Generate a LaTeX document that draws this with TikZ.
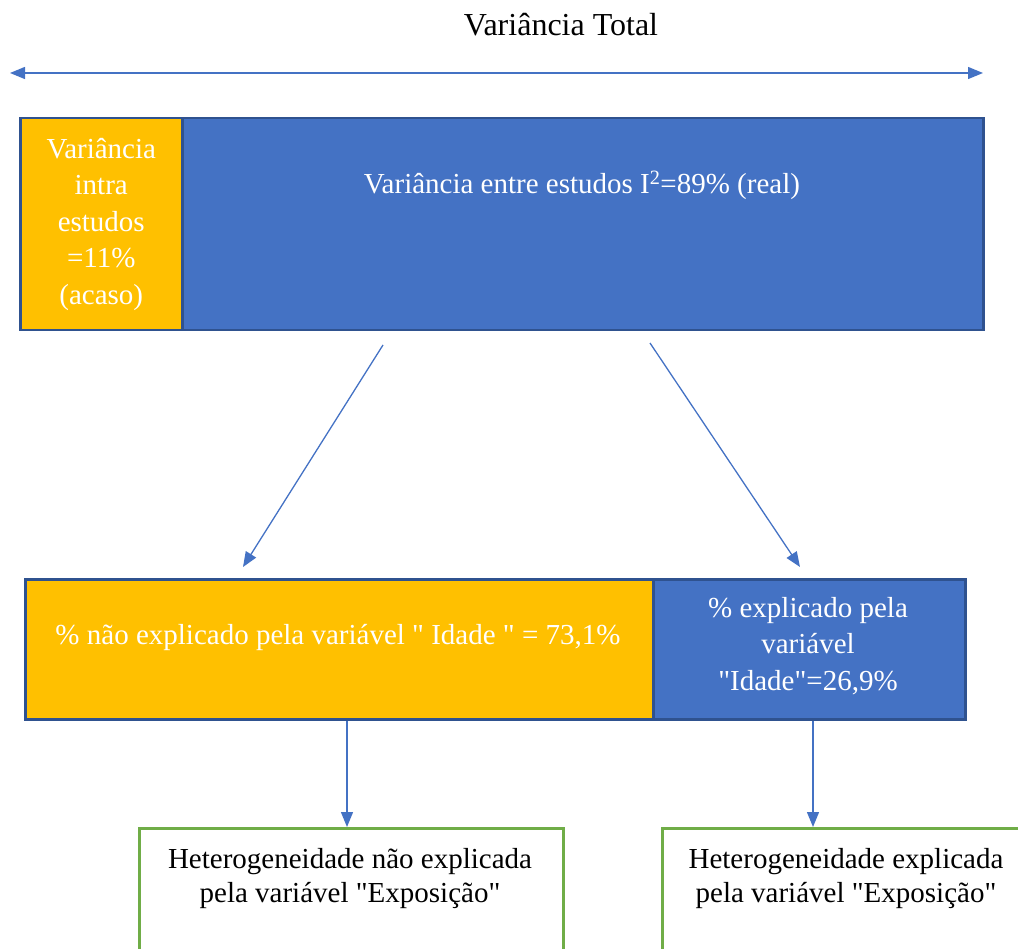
\documentclass[tikz,border=0pt]{standalone}
\usepackage{fontspec}
\setmainfont{Liberation Serif}[Ligatures=TeXOff]
\usetikzlibrary{arrows.meta}
\definecolor{myblue}{HTML}{4472C4}
\definecolor{myorange}{HTML}{FFC000}
\definecolor{myborder}{HTML}{2F528F}
\definecolor{mygreen}{HTML}{70AD47}
\tikzset{
  bar/.style={draw=myborder, line width=2.5pt, inner sep=0pt, anchor=north west},
  whitetxt/.style={text=white, font=\fontsize{29}{36.5}\selectfont, align=center, inner sep=0pt},
  blacktxt/.style={text=black, font=\fontsize{29}{34}\selectfont, align=center, inner sep=0pt},
  greenbox/.style={draw=mygreen, line width=3pt, fill=white, inner sep=0pt, anchor=north west},
  arr/.style={draw=myblue, line width=1.3pt, -{Triangle[length=15pt,width=12pt]}},
  darr/.style={draw=myblue, line width=1.3pt, {Triangle[length=15pt,width=12pt]}-{Triangle[length=15pt,width=12pt]}},
}
\begin{document}
\begin{tikzpicture}[x=1pt,y=-1pt]
\useasboundingbox (0,0) rectangle (1018,949);
\clip (0,0) rectangle (1018,949);
% title
\node[font=\fontsize{32}{38}\selectfont, inner sep=0pt] (title) at (561,25) {Variância Total};
\coordinate (tl) at (10,73);
\coordinate (tr) at (983,73);
\draw[darr] (tl) -- (tr);
% top bar
\node[bar, fill=myorange, minimum width=162pt, minimum height=212pt] (intra) at (19,117) {};
\node[bar, fill=myblue, minimum width=801pt, minimum height=212pt] (entre) at (181,117) {};
\node[whitetxt] (intratxt) at (intra.center) {Variância\\intra\\estudos\\=11\%\\(acaso)};
\node[whitetxt] (entretxt) at (582,185) {Variância entre estudos I\textsuperscript{2}=89\% (real)};
% middle bar
\node[bar, fill=myorange, minimum width=628pt, minimum height=140pt] (nexp) at (24,578) {};
\node[bar, fill=myblue, minimum width=312pt, minimum height=140pt] (exp) at (652,578) {};
\node[whitetxt] (nexptxt) at (338,638) {\% não explicado pela variável " Idade " = 73,1\%};
\node[whitetxt] (exptxt) at (808,646) {\% explicado pela\\variável\\"Idade"=26,9\%};
% arrows top -> middle
\coordinate (a1s) at (383,345);
\coordinate (a1e) at (243,567);
\coordinate (a2s) at (650,343);
\coordinate (a2e) at (800,567);
\draw[arr] (a1s) -- (a1e);
\draw[arr] (a2s) -- (a2e);
% bottom boxes
\node[greenbox, minimum width=424pt, minimum height=200pt] (hne) at (138,827) {};
\node[greenbox, minimum width=400pt, minimum height=200pt] (he) at (661,827) {};
\node[blacktxt] (hnetxt) at (350,879) {Heterogeneidade não explicada\\pela variável "Exposição"};
\node[blacktxt] (hetxt) at (846,879) {Heterogeneidade explicada\\pela variável "Exposição"};
% arrows middle -> bottom
\draw[arr] (nexp.south -| 347,0) -- (hne.north -| 347,0);
\draw[arr] (exp.south -| 813,0) -- (he.north -| 813,0);
\end{tikzpicture}
\end{document}
